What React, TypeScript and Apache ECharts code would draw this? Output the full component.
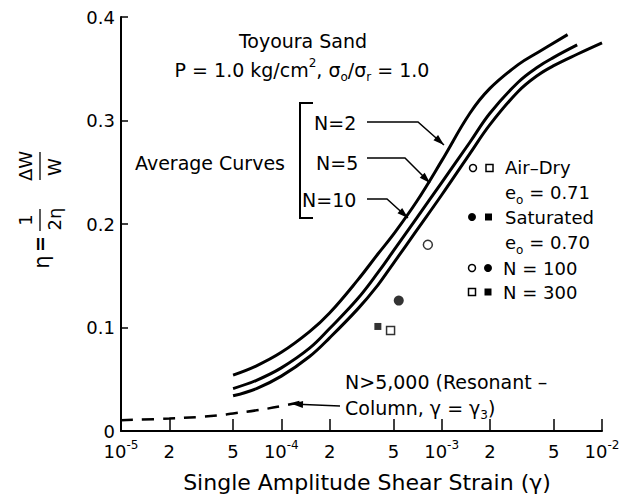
import React, { useEffect, useRef } from 'react';
import * as echarts from 'echarts';

const FONT = 'DejaVu Sans';

// x-axis ticks (single amplitude shear strain) and their labels
const xTickStrains = [1e-5, 2e-5, 5e-5, 1e-4, 2e-4, 5e-4, 1e-3, 2e-3, 5e-3, 1e-2];
const xTickLabels = ['10^-5', '2', '5', '10^-4', '2', '5', '10^-3', '2', '5', '10^-2'];
const yTickValues = [0, 0.1, 0.2, 0.3, 0.4];

// Average curves
const strainN2 = [5e-5, 7e-5, 1e-4, 1.5e-4, 2e-4, 3e-4, 4e-4, 5e-4, 7e-4, 1e-3, 1.5e-3, 2e-3, 3e-3, 4e-3, 6.1e-3];
const dampingN2 = [0.054, 0.063, 0.076, 0.096, 0.114, 0.146, 0.171, 0.19, 0.222, 0.261, 0.307, 0.331, 0.354, 0.366, 0.383];

const strainN5 = [5e-5, 7e-5, 1e-4, 1.5e-4, 2e-4, 3e-4, 4e-4, 5e-4, 7e-4, 1e-3, 1.5e-3, 2e-3, 3e-3, 4e-3, 5e-3, 7e-3];
const dampingN5 = [0.041, 0.049, 0.061, 0.08, 0.099, 0.128, 0.153, 0.174, 0.206, 0.24, 0.279, 0.307, 0.337, 0.352, 0.361, 0.373];

const strainN10 = [5e-5, 7e-5, 1e-4, 1.5e-4, 2e-4, 3e-4, 4e-4, 5e-4, 7e-4, 1e-3, 1.5e-3, 2e-3, 3e-3, 4e-3, 5e-3, 7e-3, 1e-2];
const dampingN10 = [0.034, 0.041, 0.053, 0.072, 0.09, 0.118, 0.141, 0.162, 0.194, 0.228, 0.268, 0.296, 0.328, 0.344, 0.353, 0.364, 0.375];

// N > 5,000 resonant column
const strainResonant = [1e-5, 2e-5, 3e-5, 4e-5, 5e-5, 7e-5, 1e-4, 1.3e-4];
const dampingResonant = [0.0105, 0.012, 0.0135, 0.015, 0.017, 0.02, 0.024, 0.028];

// Test points
const airDryN100 = [[8.2e-4, 0.18]];
const saturatedN100 = [[5.4e-4, 0.126]];
const saturatedN300 = [[4.0e-4, 0.101]];
const airDryN300 = [[4.8e-4, 0.097]];

const toXY = (xs: number[], ys: number[]) => xs.map((g, i) => [Math.log10(g), ys[i]]);
const ptsXY = (pts: number[][]) => pts.map((p) => [Math.log10(p[0]), p[1]]);

function arrowHead(from: number[], tip: number[], len = 11, half = 3.5) {
  const dx = tip[0] - from[0];
  const dy = tip[1] - from[1];
  const d = Math.hypot(dx, dy);
  const ux = dx / d, uy = dy / d;
  const nx = -uy, ny = ux;
  return [
    tip,
    [tip[0] - len * ux + half * nx, tip[1] - len * uy + half * ny],
    [tip[0] - len * ux - half * nx, tip[1] - len * uy - half * ny],
  ];
}

function leader(points: number[][]) {
  const n = points.length;
  return [
    { type: 'polyline', shape: { points }, style: { stroke: '#000', lineWidth: 1.5, fill: null } },
    { type: 'polygon', shape: { points: arrowHead(points[n - 2], points[n - 1]) }, style: { fill: '#000' } },
  ];
}

const txt = (x: number, y: number, text: string, fontSize = 19, align = 'left', extra: any = {}) => ({
  type: 'text',
  x,
  y,
  style: {
    text,
    fontSize,
    fontFamily: FONT,
    fill: '#000',
    align,
    verticalAlign: 'middle',
    ...extra,
  },
});

const subRich = {
  s: { fontSize: 12, fontFamily: FONT, fill: '#000', verticalAlign: 'bottom' },
  p: { fontSize: 12, fontFamily: FONT, fill: '#000', verticalAlign: 'top' },
};

export default function App() {
  const ref = useRef<HTMLDivElement>(null);
  useEffect(() => {
    const chart = echarts.init(ref.current!, null, { renderer: 'svg' });
    const xTickPos = xTickStrains.map((g) => Math.log10(g));
    const curveStyle = { color: '#000', width: 3 };
    const option: any = {
      animation: false,
      backgroundColor: '#fff',
      textStyle: { fontFamily: FONT, color: '#000' },
      grid: { left: 121, right: 19, top: 17, bottom: 73, containLabel: false, outerBoundsMode: 'none' },
      xAxis: {
        type: 'value',
        min: -5,
        max: -2,
        name: 'Single Amplitude Shear Strain (γ)',
        nameLocation: 'middle',
        nameGap: 40,
        nameTextStyle: { fontSize: 22, fontFamily: FONT, color: '#000', padding: [0, 0, 0, 11] },
        axisLine: { show: true, lineStyle: { color: '#000', width: 2 } },
        axisTick: { show: true, inside: true, length: 12, customValues: xTickPos, lineStyle: { color: '#000', width: 1.5 } },
        splitLine: { show: false },
        axisLabel: {
          customValues: xTickPos,
          margin: 8,
          formatter: (v: number) => {
            let best = 0;
            xTickPos.forEach((p, i) => {
              if (Math.abs(p - v) < Math.abs(xTickPos[best] - v)) best = i;
            });
            const lab = xTickLabels[best];
            if (lab.indexOf('^') >= 0) {
              const [b, e] = lab.split('^');
              return `{b|${b}}{s|${e}}`;
            }
            return `{b|${lab}}`;
          },
          rich: {
            b: { fontSize: 18, fontFamily: FONT, color: '#000', lineHeight: 25 },
            s: { fontSize: 12, fontFamily: FONT, color: '#000', verticalAlign: 'top' },
          },
        },
      },
      yAxis: {
        type: 'value',
        min: 0,
        max: 0.4,
        interval: 0.1,
        axisLine: { show: true, lineStyle: { color: '#000', width: 2 } },
        axisTick: { show: true, inside: true, length: 7, lineStyle: { color: '#000', width: 1.5 } },
        splitLine: { show: false },
        axisLabel: {
          fontSize: 18,
          fontFamily: FONT,
          color: '#000',
          margin: 6,
          formatter: (v: number) => {
            const i = yTickValues.findIndex((t) => Math.abs(t - v) < 1e-9);
            return i === 0 ? '0' : v.toFixed(1);
          },
        },
      },
      series: [
        { name: 'N=2', type: 'line', data: toXY(strainN2, dampingN2), smooth: 0.4, symbol: 'none', lineStyle: curveStyle },
        { name: 'N=5', type: 'line', data: toXY(strainN5, dampingN5), smooth: 0.4, symbol: 'none', lineStyle: curveStyle },
        { name: 'N=10', type: 'line', data: toXY(strainN10, dampingN10), smooth: 0.4, symbol: 'none', lineStyle: curveStyle },
        {
          name: 'N>5,000',
          type: 'line',
          data: toXY(strainResonant, dampingResonant),
          smooth: 0.4,
          symbol: 'none',
          lineStyle: { color: '#000', width: 2.5, type: [12, 9] },
        },
        { name: 'Air-Dry N=100', type: 'scatter', data: ptsXY(airDryN100), symbol: 'circle', symbolSize: 9, itemStyle: { color: '#fff', borderColor: '#000', borderWidth: 1.5 } },
        { name: 'Saturated N=100', type: 'scatter', data: ptsXY(saturatedN100), symbol: 'circle', symbolSize: 10, itemStyle: { color: '#000' } },
        { name: 'Saturated N=300', type: 'scatter', data: ptsXY(saturatedN300), symbol: 'rect', symbolSize: 7, itemStyle: { color: '#000' } },
        { name: 'Air-Dry N=300', type: 'scatter', data: ptsXY(airDryN300), symbol: 'rect', symbolSize: 8, itemStyle: { color: '#fff', borderColor: '#000', borderWidth: 1.5 } },
      ],
      graphic: [
        // y-axis title: η = (1/2η)(ΔW/W)
        {
          type: 'group',
          x: 40,
          y: 209,
          rotation: Math.PI / 2,
          children: [
            txt(-53, 2, 'η', 21, 'center'),
            txt(-35, 0, '=', 19, 'center', { fontWeight: 'bold' }),
            txt(-11, -15, '1', 18, 'center'),
            { type: 'line', shape: { x1: -22, y1: 0, x2: 0, y2: 0 }, style: { stroke: '#000', lineWidth: 1.3 } },
            txt(-10, 14, '2η', 18, 'center'),
            txt(43, -15, 'ΔW', 18, 'center'),
            { type: 'line', shape: { x1: 29, y1: 0, x2: 57, y2: 0 }, style: { stroke: '#000', lineWidth: 1.3 } },
            txt(42, 14, 'W', 18, 'center'),
          ],
        },
        // titles
        txt(303, 41, 'Toyoura Sand', 19, 'center'),
        txt(302, 70, 'P = 1.0 kg/cm{p|2}, σ{s|o}/σ{s|r} = 1.0', 19, 'center', { lineHeight: 26, rich: subRich }),
        txt(210, 163, 'Average Curves', 19, 'center'),
        // bracket
        { type: 'polyline', shape: { points: [[313, 103], [300, 103], [300, 218], [313, 218]] }, style: { stroke: '#000', lineWidth: 2, fill: null } },
        txt(314, 123, 'N=2', 19),
        txt(316, 163, 'N=5', 19),
        txt(302, 200, 'N=10', 19),
        ...leader([[367, 122], [418, 122], [444, 145]]),
        ...leader([[367, 158], [405, 158], [430, 183]]),
        ...leader([[367, 199], [387, 199], [408, 218]]),
        // legend block
        { type: 'circle', shape: { cx: 473, cy: 168, r: 3.5 }, style: { fill: '#fff', stroke: '#000', lineWidth: 1.5 } },
        { type: 'rect', shape: { x: 486, y: 164.5, width: 7, height: 7 }, style: { fill: '#fff', stroke: '#000', lineWidth: 1.5 } },
        txt(505, 167, 'Air–Dry', 18),
        txt(505, 192, 'e{s|o} = 0.71', 18, 'left', { lineHeight: 28, rich: subRich }),
        { type: 'circle', shape: { cx: 472, cy: 217, r: 4 }, style: { fill: '#000' } },
        { type: 'rect', shape: { x: 485, y: 213.5, width: 7, height: 7 }, style: { fill: '#000' } },
        txt(505, 217, 'Saturated', 18),
        txt(505, 242, 'e{s|o} = 0.70', 18, 'left', { lineHeight: 28, rich: subRich }),
        { type: 'circle', shape: { cx: 472, cy: 268, r: 3.5 }, style: { fill: '#fff', stroke: '#000', lineWidth: 1.5 } },
        { type: 'circle', shape: { cx: 488, cy: 268, r: 4 }, style: { fill: '#000' } },
        txt(503, 268, 'N = 100', 18),
        { type: 'rect', shape: { x: 468.5, y: 288.5, width: 7, height: 7 }, style: { fill: '#fff', stroke: '#000', lineWidth: 1.5 } },
        { type: 'rect', shape: { x: 484.5, y: 288.5, width: 7, height: 7 }, style: { fill: '#000' } },
        txt(503, 292, 'N = 300', 18),
        // resonant column annotation
        txt(345, 382, 'N>5,000 (Resonant –', 19),
        txt(345, 408, 'Column, γ = γ{s|3})', 19, 'left', { lineHeight: 26, rich: subRich }),
        ...leader([[340, 406], [292, 404]]),
      ],
    };
    chart.setOption(option);
    return () => chart.dispose();
  }, []);
  return (
    <div
      ref={ref}
      style={{ position: 'fixed', left: 0, top: 0, width: 621, height: 504, background: '#fff' }}
    />
  );
}
